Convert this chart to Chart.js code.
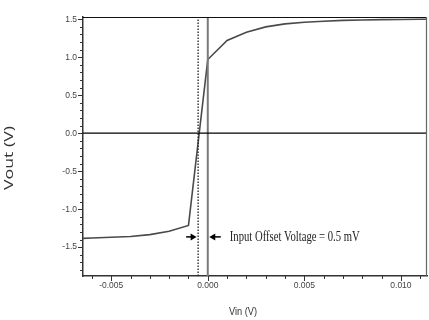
<!DOCTYPE html>
<html>
<head>
<meta charset="utf-8">
<script src="https://cdn.jsdelivr.net/npm/chart.js@4.4.1/dist/chart.umd.min.js"></script>
<style>
  html, body { margin: 0; padding: 0; background: #fff; }
  #wrap { width: 429px; height: 320px; position: relative; }
</style>
</head>
<body>
<div id="wrap"><canvas id="chartVout"></canvas></div>
<script>
// curva de transferencia Vout vs Vin
const vin = [-0.0065, -0.006, -0.005, -0.004, -0.003, -0.002, -0.001, 0.000, 0.001, 0.002, 0.003, 0.004, 0.005, 0.006, 0.007, 0.008, 0.009, 0.010, 0.011, 0.0114];
const vout = [-1.385, -1.38, -1.37, -1.36, -1.335, -1.29, -1.215, 0.97, 1.22, 1.33, 1.40, 1.44, 1.46, 1.475, 1.485, 1.49, 1.495, 1.497, 1.5, 1.5];

const offsetVin = -0.0005;   // linea punteada (offset 0.5 mV)
const zeroVin = 0;           // linea solida en Vin = 0
const arrowVout = -1.365;    // altura de las flechas
const etiqueta = 'Input Offset Voltage = 0.5 mV';

const xMin = -0.00646, xMax = 0.01135;
const yMin = -1.88, yMax = 1.53;

const xTicks = [-0.006, -0.005, -0.004, -0.003, -0.002, -0.001, 0, 0.001, 0.002, 0.003, 0.004, 0.005, 0.006, 0.007, 0.008, 0.009, 0.010, 0.011];
const xMajor = [-0.005, 0, 0.005, 0.010];
const xMajorLabels = ['-0.005', '0.000', '0.005', '0.010'];

const yTicks = [-1.8, -1.7, -1.6, -1.5, -1.4, -1.3, -1.2, -1.1, -1.0, -0.9, -0.8, -0.7, -0.6, -0.5, -0.4, -0.3, -0.2, -0.1, 0, 0.1, 0.2, 0.3, 0.4, 0.5, 0.6, 0.7, 0.8, 0.9, 1.0, 1.1, 1.2, 1.3, 1.4, 1.5];
const yMajor = [-1.5, -1.0, -0.5, 0, 0.5, 1.0, 1.5];
const yMajorLabels = ['-1.5', '-1.0', '-0.5', '0.0', '0.5', '1.0', '1.5'];

const esMayor = (lista, v) => lista.findIndex(m => Math.abs(m - v) < 1e-9);

const decor = {
  id: 'decor',
  afterDraw(chart) {
    const {ctx, chartArea: a, scales: {x, y}} = chart;
    ctx.save();
    // marco superior y derecho
    ctx.strokeStyle = '#111';
    ctx.lineWidth = 1.2;
    ctx.beginPath();
    ctx.moveTo(a.left, a.top + 0.5);
    ctx.lineTo(a.right, a.top + 0.5);
    ctx.stroke();
    ctx.strokeStyle = '#666';
    ctx.beginPath();
    ctx.moveTo(a.right - 0.5, a.top);
    ctx.lineTo(a.right - 0.5, a.bottom);
    ctx.stroke();

    // marcas de eje (mayores y menores)
    ctx.strokeStyle = '#333';
    ctx.lineWidth = 1;
    ctx.beginPath();
    xTicks.forEach(v => {
      const px = Math.round(x.getPixelForValue(v)) + 0.5;
      const len = esMayor(xMajor, v) >= 0 ? 5 : 3;
      ctx.moveTo(px, a.bottom);
      ctx.lineTo(px, a.bottom + len);
    });
    yTicks.forEach(v => {
      const py = Math.round(y.getPixelForValue(v)) + 0.5;
      const len = esMayor(yMajor, v) >= 0 ? 5 : 3;
      ctx.moveTo(a.left - len, py);
      ctx.lineTo(a.left, py);
    });
    ctx.stroke();

    // flechas del offset
    const py = y.getPixelForValue(arrowVout);
    const pDot = x.getPixelForValue(offsetVin);
    const pZero = x.getPixelForValue(zeroVin);
    const flecha = (x0, x1) => {
      const dir = Math.sign(x1 - x0);
      ctx.strokeStyle = '#000';
      ctx.fillStyle = '#000';
      ctx.lineWidth = 1.5;
      ctx.beginPath();
      ctx.moveTo(x0, py);
      ctx.lineTo(x1 - dir * 4, py);
      ctx.stroke();
      ctx.beginPath();
      ctx.moveTo(x1, py);
      ctx.lineTo(x1 - dir * 6, py - 3.5);
      ctx.lineTo(x1 - dir * 6, py + 3.5);
      ctx.closePath();
      ctx.fill();
    };
    flecha(pDot - 12, pDot - 1.5);
    flecha(pZero + 13, pZero + 1.5);

    ctx.fillStyle = '#222';
    ctx.font = '14px "Liberation Serif", "Times New Roman", serif';
    ctx.textBaseline = 'middle';
    ctx.textAlign = 'left';
    ctx.fillText(etiqueta, pZero + 22, py, 130);

    // titulos de ejes
    ctx.fillStyle = '#333';
    ctx.font = '11px "Liberation Sans", Arial, sans-serif';
    ctx.textAlign = 'center';
    ctx.fillText('Vin (V)', 243, 312, 28);

    ctx.translate(9, 158);
    ctx.rotate(-Math.PI / 2);
    ctx.font = '13px "Open Sans", sans-serif';
    const w = ctx.measureText('Vout (V)').width;
    ctx.scale(64 / w, 1);
    ctx.fillText('Vout (V)', 0, 0);
    ctx.restore();
  }
};

new Chart(document.getElementById('chartVout'), {
  type: 'line',
  data: {
    datasets: [
      {
        data: [{x: xMin, y: 0}, {x: xMax, y: 0}],
        borderColor: '#000',
        borderWidth: 1.2,
        pointRadius: 0
      },
      {
        data: [{x: zeroVin, y: yMin}, {x: zeroVin, y: yMax}],
        borderColor: '#7a7a7a',
        borderWidth: 2,
        pointRadius: 0
      },
      {
        data: [{x: offsetVin, y: yMin}, {x: offsetVin, y: yMax}],
        borderColor: '#222',
        borderWidth: 1.3,
        borderDash: [1.5, 1.5],
        pointRadius: 0
      },
      {
        data: vin.map((v, i) => ({x: v, y: vout[i]})),
        borderColor: '#4a4a4a',
        borderWidth: 1.6,
        pointRadius: 0,
        tension: 0
      }
    ]
  },
  plugins: [decor],
  options: {
    responsive: true,
    maintainAspectRatio: false,
    animation: false,
    layout: { padding: { top: 17, right: 2, left: 0, bottom: 0 } },
    plugins: { legend: { display: false }, tooltip: { enabled: false } },
    scales: {
      x: {
        type: 'linear',
        min: xMin,
        max: xMax,
        afterBuildTicks: s => { s.ticks = xTicks.map(v => ({value: v})); },
        afterFit: s => { s.height = 44; },
        grid: { display: false, drawTicks: false },
        border: { display: true, color: '#333', width: 1.5 },
        ticks: {
          autoSkip: false,
          maxRotation: 0,
          padding: 5,
          color: '#444',
          font: { family: '"Liberation Sans", Arial, sans-serif', size: 8.5 },
          callback: v => { const i = esMayor(xMajor, v); return i >= 0 ? xMajorLabels[i] : ''; }
        }
      },
      y: {
        min: yMin,
        max: yMax,
        afterBuildTicks: s => { s.ticks = yTicks.map(v => ({value: v})); },
        afterFit: s => { s.width = 83; },
        grid: { display: false, drawTicks: false },
        border: { display: true, color: '#333', width: 1.5 },
        ticks: {
          autoSkip: false,
          padding: 6,
          color: '#444',
          font: { family: '"Liberation Sans", Arial, sans-serif', size: 8.5 },
          callback: v => { const i = esMayor(yMajor, v); return i >= 0 ? yMajorLabels[i] : ''; }
        }
      }
    }
  }
});
</script>
</body>
</html>
